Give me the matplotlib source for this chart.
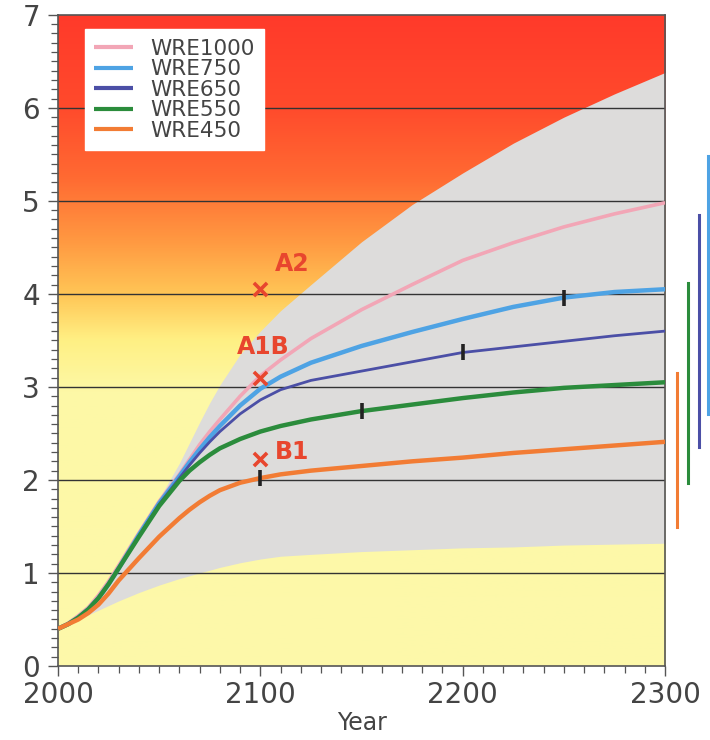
import numpy as np
import matplotlib
matplotlib.use("Agg")
import matplotlib.pyplot as plt
from matplotlib.colors import LinearSegmentedColormap

# ── Dati ────────────────────────────────────────────────────
YEARS = [2000, 2005, 2010, 2015, 2020, 2025, 2030, 2040, 2050, 2060,
         2065, 2070, 2075, 2080, 2090, 2100, 2110, 2125, 2150, 2175,
         2200, 2225, 2250, 2275, 2300]

WRE1000 = [0.40, 0.46, 0.54, 0.63, 0.76, 0.91, 1.08, 1.43, 1.77, 2.06,
           2.22, 2.38, 2.52, 2.65, 2.90, 3.12, 3.29, 3.52, 3.83, 4.10,
           4.36, 4.55, 4.72, 4.86, 4.98]
WRE750  = [0.40, 0.45, 0.52, 0.61, 0.73, 0.88, 1.05, 1.41, 1.75, 2.04,
           2.19, 2.33, 2.46, 2.58, 2.80, 2.98, 3.11, 3.26, 3.44, 3.59,
           3.73, 3.86, 3.96, 4.02, 4.05]
WRE650  = [0.40, 0.45, 0.52, 0.61, 0.73, 0.88, 1.05, 1.40, 1.74, 2.02,
           2.16, 2.29, 2.41, 2.52, 2.71, 2.86, 2.97, 3.07, 3.17, 3.27,
           3.37, 3.43, 3.49, 3.55, 3.60]
WRE550  = [0.40, 0.45, 0.52, 0.61, 0.73, 0.88, 1.05, 1.39, 1.72, 1.99,
           2.10, 2.19, 2.27, 2.34, 2.44, 2.52, 2.58, 2.65, 2.74, 2.81,
           2.88, 2.94, 2.99, 3.02, 3.05]
WRE450  = [0.40, 0.45, 0.50, 0.57, 0.66, 0.78, 0.92, 1.16, 1.39, 1.59,
           1.68, 1.76, 1.83, 1.89, 1.97, 2.02, 2.06, 2.10, 2.15, 2.20,
           2.24, 2.29, 2.33, 2.37, 2.41]

BAND_UPPER = [0.40, 0.47, 0.55, 0.65, 0.78, 0.94, 1.12, 1.46, 1.80, 2.18,
              2.40, 2.62, 2.83, 3.02, 3.35, 3.60, 3.82, 4.10, 4.56, 4.96,
              5.30, 5.62, 5.90, 6.15, 6.38]
BAND_LOWER = [0.40, 0.45, 0.50, 0.55, 0.60, 0.65, 0.70, 0.79, 0.87, 0.94,
              0.97, 1.00, 1.03, 1.06, 1.11, 1.15, 1.18, 1.20, 1.23, 1.25,
              1.27, 1.28, 1.30, 1.31, 1.32]

SERIES_NAMES = ["WRE1000", "WRE750", "WRE650", "WRE550", "WRE450"]
SERIES_DATA  = [WRE1000, WRE750, WRE650, WRE550, WRE450]

# anno di stabilizzazione (tacche nere) per WRE750, 650, 550, 450
STAB_YEARS  = [2250, 2200, 2150, 2100]
STAB_VALUES = [3.96, 3.37, 2.74, 2.02]

# scenari SRES al 2100
SRES_NAMES  = ["A2", "A1B", "B1"]
SRES_YEAR   = [2100, 2100, 2100]
SRES_VALUES = [4.05, 3.10, 2.22]

# barre di equilibrio a destra (min, max) per WRE450, 550, 650, 750
EQ_RANGES = [(1.49, 3.15), (1.97, 4.12), (2.35, 4.85), (2.71, 5.48)]
# ────────────────────────────────────────────────────────────

COLORS = ["#f2a6b6", "#4ea3e4", "#4b4fa6", "#2b8c3c", "#f27c34"]
WIDTHS = [2.6, 3.2, 2.0, 3.2, 3.2]
TEXT_C = "#444444"
RED_C  = "#e8462e"

fig = plt.figure(figsize=(7.1, 7.4), dpi=100)
ax = fig.add_axes([0.0817, 0.100, 0.855, 0.880])
ax.set_xlim(2000, 2300)
ax.set_ylim(0, 7)

# sfondo sfumato rosso -> giallo in funzione di y
bg = LinearSegmentedColormap.from_list("bg", [
    (0.00, "#fdf9aa"),
    (0.42, "#fdf8a6"),
    (0.50, "#fff084"),
    (0.57, "#ffc656"),
    (0.65, "#ff9a42"),
    (0.75, "#ff6a32"),
    (0.86, "#ff4a2c"),
    (1.00, "#ff3a2a"),
])
grad = np.linspace(0, 1, 256).reshape(-1, 1)
ax.imshow(grad, extent=[2000, 2300, 0, 7], origin="lower", aspect="auto",
          cmap=bg, zorder=0)

ax.fill_between(YEARS, BAND_LOWER, BAND_UPPER, color="#dddcdb", lw=0, zorder=1)

for yv in range(1, 7):
    ax.axhline(yv, color="#333333", lw=1.0, zorder=2)

for name, vals, c, w in zip(SERIES_NAMES, SERIES_DATA, COLORS, WIDTHS):
    ax.plot(YEARS, vals, color=c, lw=w, label=name, zorder=3,
            solid_capstyle="butt", solid_joinstyle="round")

ax.scatter(STAB_YEARS, STAB_VALUES, marker="|", s=140, color="#222222",
           linewidths=2.6, zorder=4)

ax.scatter(SRES_YEAR, SRES_VALUES, marker="x", s=90, color=RED_C,
           linewidths=2.6, zorder=5)
label_offsets = [(7, 0.27), (-11.5, 0.33), (7, 0.08)]
for name, xv, yv, (dx, dy) in zip(SRES_NAMES, SRES_YEAR, SRES_VALUES, label_offsets):
    ax.text(xv + dx, yv + dy, name, color=RED_C, fontsize=17,
            fontweight="bold", ha="left", va="center", zorder=5)

# barre verticali fuori dagli assi
eq_x = [2306, 2311.5, 2317, 2321]
for (lo, hi), xv, c in zip(EQ_RANGES, eq_x, COLORS[::-1][:4]):
    ax.plot([xv, xv], [lo, hi], color=c, lw=2.2, clip_on=False, zorder=5)

ax.set_xticks([2000, 2100, 2200, 2300])
ax.set_xticks(np.arange(2000, 2301, 10), minor=True)
ax.set_yticks(range(0, 8))
ax.set_yticks(np.arange(0, 7.01, 0.1), minor=True)
ax.tick_params(axis="both", which="major", direction="out", length=7,
               width=1.0, color="#555555", labelsize=20, labelcolor=TEXT_C)
ax.tick_params(axis="both", which="minor", direction="out", length=5,
               width=0.9, color="#555555")
ax.tick_params(axis="y", pad=6)
ax.tick_params(axis="x", pad=4)
for sp in ax.spines.values():
    sp.set_color("#555555")
    sp.set_linewidth(1.2)

ax.set_xlabel("Year", fontsize=17, color=TEXT_C, labelpad=1)

leg = ax.legend(loc="upper left", bbox_to_anchor=(0.044, 0.978), fontsize=15.5,
                frameon=True, fancybox=False, handlelength=1.8,
                handletextpad=0.8, labelspacing=0.02, borderpad=0.45,
                framealpha=1.0, borderaxespad=0)
leg.get_frame().set_edgecolor("white")
for t in leg.get_texts():
    t.set_color(TEXT_C)
for h in leg.get_lines():
    h.set_linewidth(3.0)

fig.savefig("out.png", dpi=100)
